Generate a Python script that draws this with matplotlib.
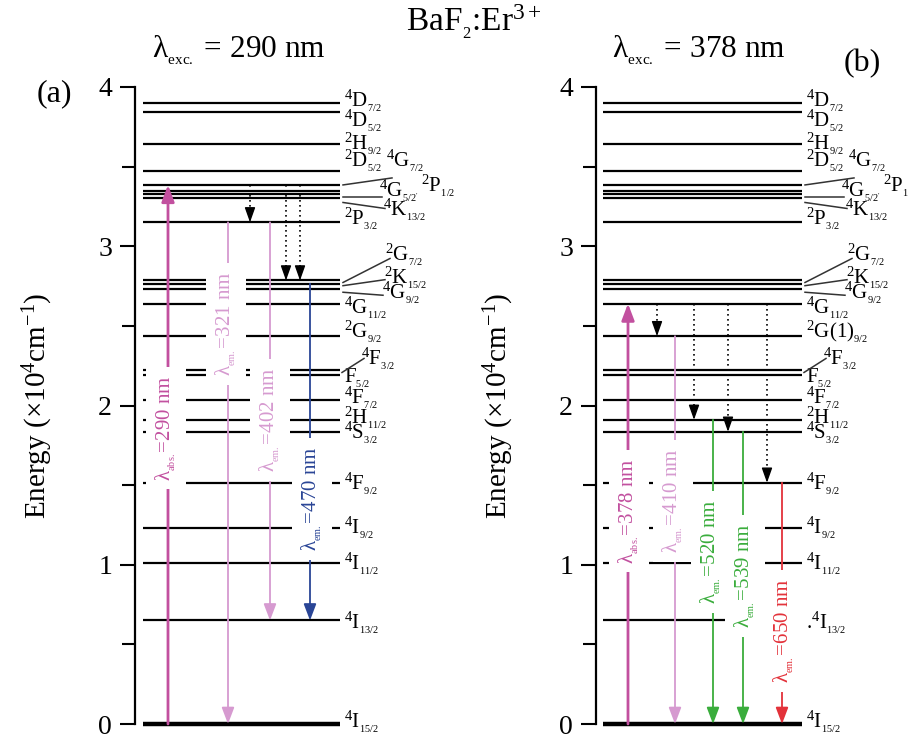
import matplotlib
matplotlib.use("Agg")
import matplotlib.pyplot as plt
from matplotlib.ticker import MultipleLocator

plt.rcParams['font.family'] = ['Liberation Serif', 'DejaVu Serif']
plt.rcParams['mathtext.fontset'] = 'custom'
plt.rcParams['mathtext.rm'] = 'Liberation Serif'
plt.rcParams['mathtext.it'] = 'Liberation Serif:italic'
plt.rcParams['mathtext.bf'] = 'Liberation Serif:bold'

# ---------------- data (energies in 10^4 cm^-1) ----------------
level_keys = ['4I15/2', '4I13/2', '4I11/2', '4I9/2', '4F9/2', '4S3/2', '2H11/2',
              '4F7/2', '4F5/2', '4F3/2', '2G9/2', '4G11/2', '4G9/2', '2K15/2',
              '2G7/2', '2P3/2', '4K13/2', '4G5/2', '2P1/2', '4G7/2', '2D5/2',
              '2H9/2', '4D5/2', '4D7/2']
level_energy = [0.0, 0.65, 1.01, 1.23, 1.515, 1.835, 1.91,
                2.035, 2.19, 2.22, 2.435, 2.64, 2.73, 2.765,
                2.785, 3.15, 3.30, 3.33, 3.35, 3.385, 3.47,
                3.645, 3.84, 3.90]


def term(mult, letter, j):
    s = r'$^{%s}$' % mult if mult else ''
    return s + letter + r'$_{_{%s}}$' % j


labels_a = {
    '4D7/2': term('4', 'D', '7/2'), '4D5/2': term('4', 'D', '5/2'),
    '2H9/2': term('2', 'H', '9/2'), '2D5/2': term('2', 'D', '5/2'),
    '4G7/2': term('4', 'G', '7/2'), '4G5/2': term('4', 'G', "5/2'"),
    '2P1/2': term('2', 'P', '1/2'), '4K13/2': term('4', 'K', '13/2'),
    '2P3/2': term('2', 'P', '3/2'), '2G7/2': term('2', 'G', '7/2'),
    '2K15/2': term('2', 'K', '15/2'), '4G9/2': term('4', 'G', '9/2'),
    '4G11/2': term('4', 'G', '11/2'), '2G9/2': term('2', 'G', '9/2'),
    '4F3/2': term('4', 'F', '3/2'), '4F5/2': term('', 'F', '5/2'),
    '4F7/2': term('4', 'F', '7/2'), '2H11/2': term('2', 'H', '11/2'),
    '4S3/2': term('4', 'S', '3/2'), '4F9/2': term('4', 'F', '9/2'),
    '4I9/2': term('4', 'I', '9/2'), '4I11/2': term('4', 'I', '11/2'),
    '4I13/2': term('4', 'I', '13/2'), '4I15/2': term('4', 'I', '15/2'),
}
labels_b = dict(labels_a)
labels_b['2G9/2'] = term('2', 'G(1)', '9/2')
labels_b['4I13/2'] = '.' + term('4', 'I', '13/2')

# transitions: (from level, to level, wavelength text)
abs_a = ('4I15/2', '4G7/2', '290')
em_a = [('2P3/2', '4I15/2', '321'), ('2P3/2', '4I13/2', '402'), ('2K15/2', '4I13/2', '470')]
nr_a = [('4G7/2', '2P3/2'), ('4G7/2', '2G7/2'), ('4G7/2', '2G7/2')]

abs_b = ('4I15/2', '4G11/2', '378')
em_b = [('2G9/2', '4I15/2', '410'), ('2H11/2', '4I15/2', '520'),
        ('4S3/2', '4I15/2', '539'), ('4F9/2', '4I15/2', '650')]
nr_b = [('4G11/2', '2G9/2'), ('4G11/2', '2H11/2'), ('4G11/2', '4S3/2'), ('4G11/2', '4F9/2')]

E = dict(zip(level_keys, level_energy))

# ---------------- layout / style ----------------
W, H = 909, 744
PXE = 159.25          # pixels per 10^4 cm^-1
Y0 = 724              # pixel row of E=0
C_ABS = '#c2509f'
C_EM = '#d69ad0'
C_BLUE = '#2a4596'
C_GREEN = '#3aad3c'
C_RED = '#e3323a'

fig = plt.figure(figsize=(W / 100, H / 100), dpi=100)


def make_ax(x0, x1):
    ax = fig.add_axes([x0 / W, (H - Y0) / H, (x1 - x0) / W, 4 * PXE / H])
    ax.set_xlim(x0, x1)
    ax.set_ylim(0, 4)
    for s in ['top', 'right', 'bottom']:
        ax.spines[s].set_visible(False)
    ax.spines['left'].set_linewidth(1.6)
    ax.spines['left'].set_bounds(0, 4)
    ax.set_xticks([])
    ax.yaxis.set_major_locator(MultipleLocator(1))
    ax.yaxis.set_minor_locator(MultipleLocator(0.5))
    ax.tick_params(axis='y', which='major', length=10.5, width=1.5, pad=6, labelsize=20)
    ax.tick_params(axis='y', which='minor', length=9.5, width=1.5)
    ax.set_ylabel(r'Energy ($\times$10$^{4}$cm$^{-1}$)', fontsize=21, labelpad=31)
    ax.patch.set_visible(False)
    return ax


def px2dy(p):
    return p / PXE


# label placement: (dx from line end, dy px up from level, leader line)
lab_pos = {
    '4D7/2': (4, 2, None), '4D5/2': (4, -8, None), '2H9/2': (4, 0, None),
    '2D5/2': (4, 11, None), '4G7/2': (46, 24, (3, 0, 52, 7)),
    '4G5/2': (39, 3, (3, -3, 42, -3)), '2P1/2': (81, 5, None),
    '4K13/2': (43, -11, (3, -4, 45, -10)), '2P3/2': (4, 4, None),
    '2G7/2': (45, 26, (3, -2, 50, 22)), '2K15/2': (44, 6, (3, -2, 45, 4)),
    '4G9/2': (42, -4, (3, -3, 43, -6)), '4G11/2': (4, -4, None),
    '2G9/2': (4, 4, None), '4F3/2': (21, 12, (2, -2, 24, 12)),
    '4F5/2': (4, -3, None), '4F7/2': (4, 2, None), '2H11/2': (4, 2, None),
    '4S3/2': (4, -1, None), '4F9/2': (4, -1, None), '4I9/2': (4, 0, None),
    '4I11/2': (4, -1, None), '4I13/2': (4, -2, None), '4I15/2': (4, 2, None),
}


def draw_panel(ax, xs, xe, labels, absorption, abs_x, abs_lab, emissions, em_x, em_col,
               em_lab, nonrad, nr_x):
    # energy levels
    for k, e in zip(level_keys, level_energy):
        lw = 3.2 if e == 0 else 1.6
        ax.plot([xs, xe], [e, e], color='black', lw=lw, solid_capstyle='butt',
                zorder=2, clip_on=False)
        dx, dy, lead = lab_pos[k]
        ax.text(xe + dx, e + px2dy(dy), labels[k], fontsize=15, ha='left',
                va='center', clip_on=False, zorder=5)
        if lead is not None:
            ax.plot([xe + lead[0], xe + lead[2]], [e + px2dy(lead[1]), e + px2dy(lead[3])],
                    color='#333333', lw=1.1, clip_on=False, zorder=5)
    # absorption
    lo, hi, wl = absorption
    ax.annotate('', xy=(abs_x, E[hi]), xytext=(abs_x, E[lo]),
                arrowprops=dict(arrowstyle='-|>,head_length=1.0,head_width=0.38',
                                color=C_ABS, lw=2.0, shrinkA=0, shrinkB=0), zorder=3)
    x, y = abs_lab
    ax.text(x, y, r'λ$_{_{\rm abs.}}$=' + wl + ' nm', rotation=90, color=C_ABS,
            fontsize=15, ha='center', va='center', zorder=4,
            bbox=dict(boxstyle='square,pad=0.4', fc='white', ec='none'))
    # emissions
    for (hi, lo, wl), x, c, (lx, ly) in zip(emissions, em_x, em_col, em_lab):
        ax.annotate('', xy=(x, E[lo]), xytext=(x, E[hi]),
                    arrowprops=dict(arrowstyle='-|>,head_length=1.0,head_width=0.38',
                                    color=c, lw=1.3, shrinkA=0, shrinkB=0), zorder=3)
        ax.text(lx, ly, r'λ$_{_{\rm em.}}$=' + wl + ' nm', rotation=90, color=c,
                fontsize=15, ha='center', va='center', zorder=4,
                bbox=dict(boxstyle='square,pad=0.4', fc='white', ec='none'))
    # non-radiative relaxations
    for (hi, lo), x in zip(nonrad, nr_x):
        ax.plot([x, x], [E[hi], E[lo] + px2dy(6)], color='black', lw=1.2,
                ls=(0, (1, 2)), zorder=3)
        ax.annotate('', xy=(x, E[lo]), xytext=(x, E[lo] + px2dy(12)),
                    arrowprops=dict(arrowstyle='-|>,head_length=0.9,head_width=0.32',
                                    color='black', lw=1.0, shrinkA=0, shrinkB=0),
                    zorder=3)


def ey(ypx):
    return (Y0 - ypx) / PXE


ax_a = make_ax(135, 340)
draw_panel(ax_a, 143, 340, labels_a, abs_a, 168, (166, ey(428)), em_a,
           [228, 270, 310], [C_EM, C_EM, C_BLUE],
           [(226, ey(324)), (270, ey(420)), (312, ey(499))],
           nr_a, [250, 286, 300])

ax_b = make_ax(596, 802)
draw_panel(ax_b, 603, 802, labels_b, abs_b, 628, (629, ey(511)), em_b,
           [675, 713, 743, 782], [C_EM, C_GREEN, C_GREEN, C_RED],
           [(673, ey(501)), (711, ey(552)), (745, ey(576)), (784, ey(631))],
           nr_b, [657, 694, 728, 767])

# titles
fig.text(474 / W, 1 - 22 / H, r'BaF$_{_2}$:Er$^{3+}$', fontsize=24, ha='center', va='center')
fig.text(239 / W, 1 - 50 / H, r'λ$_{_{\rm exc.}}$ = 290 nm', fontsize=22.5, ha='center', va='center')
fig.text(699 / W, 1 - 50 / H, r'λ$_{_{\rm exc.}}$ = 378 nm', fontsize=22.5, ha='center', va='center')
fig.text(54 / W, 1 - 94 / H, '(a)', fontsize=23, ha='center', va='center')
fig.text(862 / W, 1 - 64 / H, '(b)', fontsize=23, ha='center', va='center')

fig.savefig('out.png', dpi=100)
